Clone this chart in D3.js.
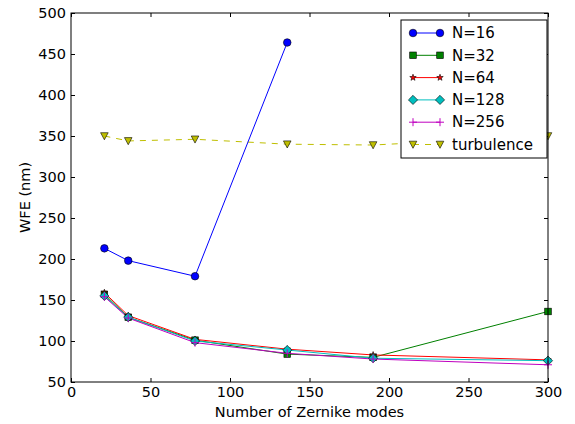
<!DOCTYPE html>
<html>
<head>
<meta charset="utf-8">
<script src="https://cdn.jsdelivr.net/npm/d3@7"></script>
<style>
  body { margin: 0; background: #fff; }
  text { font-family: "DejaVu Sans", sans-serif; }
</style>
</head>
<body>
<div id="chart"></div>
<script>
// data
var modes = [21, 36, 78, 136, 190, 300];
var n16 = [213, 198, 179, 464];
var n32 = [157, 129, 101, 84, 80, 136];
var n64 = [159, 131, 102, 90, 83, 77];
var n128 = [155, 129, 100, 89, 79, 76];
var n256 = [154, 128, 98, 85, 78, 71];
var turbulence = [350, 344, 346, 340, 339, 350];
var xTicks = [0, 50, 100, 150, 200, 250, 300];
var yTicks = [50, 100, 150, 200, 250, 300, 350, 400, 450, 500];

var series = [
  { name: 'N=16', values: n16, color: '#0000ff', symbol: 'circle', dash: null },
  { name: 'N=32', values: n32, color: '#008000', symbol: 'square', dash: null },
  { name: 'N=64', values: n64, color: '#ff0000', symbol: 'star', dash: null },
  { name: 'N=128', values: n128, color: '#00bfbf', symbol: 'diamond', dash: null },
  { name: 'N=256', values: n256, color: '#bf00bf', symbol: 'plus', dash: null },
  { name: 'turbulence', values: turbulence, color: '#bfbf00', symbol: 'triangle', dash: '6,6' }
];

var attrs = {
  width: 575,
  height: 424,
  marginTop: 13,
  marginLeft: 71,
  marginRight: 27,
  marginBottom: 42,
  fontSize: 14.5
};

var svg = d3.select('#chart').append('svg')
  .attr('width', attrs.width)
  .attr('height', attrs.height);

var x = d3.scaleLinear().domain([0, 300])
  .range([attrs.marginLeft, attrs.width - attrs.marginRight]);
var y = d3.scaleLinear().domain([50, 500])
  .range([attrs.height - attrs.marginBottom, attrs.marginTop]);

var plot = svg.append('g');

// clip to axes
svg.append('clipPath').attr('id', 'clip').append('rect')
  .attr('x', x(0)).attr('y', y(500))
  .attr('width', x(300) - x(0)).attr('height', y(50) - y(500));

var line = d3.line()
  .x(function(d, i) { return x(modes[i]); })
  .y(function(d) { return y(d); });

function symbolPath(sym, fill, sel) {
  if (sym === 'circle') {
    sel.append('circle').attr('r', 3.8).attr('fill', fill).attr('stroke', '#000').attr('stroke-width', 0.6);
  } else if (sym === 'square') {
    sel.append('rect').attr('x', -3.3).attr('y', -3.3).attr('width', 6.6).attr('height', 6.6)
      .attr('fill', fill).attr('stroke', '#000').attr('stroke-width', 0.6);
  } else if (sym === 'star') {
    sel.append('path').attr('d', d3.symbol().type(d3.symbolStar).size(13)())
      .attr('fill', fill).attr('stroke', '#000').attr('stroke-width', 0.6);
  } else if (sym === 'diamond') {
    sel.append('path').attr('d', 'M0,-4.6L4.6,0L0,4.6L-4.6,0Z')
      .attr('fill', fill).attr('stroke', '#000').attr('stroke-width', 0.6);
  } else if (sym === 'plus') {
    sel.append('path').attr('d', 'M-4,0H4M0,-4V4')
      .attr('fill', 'none').attr('stroke', fill).attr('stroke-width', 1);
  } else if (sym === 'triangle') {
    sel.append('path').attr('d', 'M-3.8,-3.3L3.8,-3.3L0,3.8Z')
      .attr('fill', fill).attr('stroke', '#000').attr('stroke-width', 0.6);
  }
}

// turbulence first, then N=16 ... N=256 on top
var drawOrder = [5, 0, 1, 2, 3, 4];
var seriesG = plot.append('g').attr('clip-path', 'url(#clip)');
drawOrder.forEach(function(si) {
  var s = series[si];
  seriesG.append('path')
    .datum(s.values)
    .attr('d', line)
    .attr('fill', 'none')
    .attr('stroke', s.color)
    .attr('stroke-width', 1)
    .attr('stroke-dasharray', s.dash);
});
var markerG = plot.append('g');
drawOrder.forEach(function(si) {
  var s = series[si];
  s.values.forEach(function(v, i) {
    var g = markerG.append('g').attr('transform', 'translate(' + x(modes[i]) + ',' + y(v) + ')');
    symbolPath(s.symbol, s.color, g);
  });
});

// frame
var frame = svg.append('g');
frame.append('rect')
  .attr('x', x(0)).attr('y', y(500))
  .attr('width', x(300) - x(0)).attr('height', y(50) - y(500))
  .attr('fill', 'none').attr('stroke', '#000').attr('stroke-width', 1);

// inward ticks on all four sides
var xAxisB = d3.axisBottom(x).tickValues(xTicks).tickSizeInner(-4).tickSizeOuter(0).tickPadding(5);
var xAxisT = d3.axisTop(x).tickValues(xTicks).tickSizeInner(-4).tickSizeOuter(0).tickFormat('');
var yAxisL = d3.axisLeft(y).tickValues(yTicks).tickSizeInner(-4).tickSizeOuter(0).tickPadding(5);
var yAxisR = d3.axisRight(y).tickValues(yTicks).tickSizeInner(-4).tickSizeOuter(0).tickFormat('');

function styleAxis(g) {
  g.select('.domain').remove();
  g.selectAll('.tick line').attr('stroke', '#000');
  g.selectAll('.tick text').attr('font-size', attrs.fontSize).attr('font-family', 'DejaVu Sans').attr('fill', '#000');
}

frame.append('g').attr('transform', 'translate(0,' + y(50) + ')').call(xAxisB).call(styleAxis);
frame.append('g').attr('transform', 'translate(0,' + y(500) + ')').call(xAxisT).call(styleAxis);
frame.append('g').attr('transform', 'translate(' + x(0) + ',0)').call(yAxisL).call(styleAxis);
frame.append('g').attr('transform', 'translate(' + x(300) + ',0)').call(yAxisR).call(styleAxis);

// axis labels
svg.append('text')
  .attr('x', (x(0) + x(300)) / 2).attr('y', 417)
  .attr('text-anchor', 'middle').attr('font-size', attrs.fontSize)
  .text('Number of Zernike modes');
svg.append('text')
  .attr('transform', 'translate(30,' + (y(50) + y(500)) / 2 + ') rotate(-90)')
  .attr('text-anchor', 'middle').attr('font-size', attrs.fontSize)
  .text('WFE (nm)');

// legend
var legend = svg.append('g').attr('transform', 'translate(401,20)');
legend.append('rect')
  .attr('width', 146).attr('height', 138)
  .attr('fill', '#fff').attr('stroke', '#000').attr('stroke-width', 1);
series.forEach(function(s, i) {
  var row = legend.append('g').attr('transform', 'translate(0,' + (13 + i * 22.3) + ')');
  row.append('line')
    .attr('x1', 12).attr('x2', 39).attr('y1', 0).attr('y2', 0)
    .attr('stroke', s.color).attr('stroke-width', 1)
    .attr('stroke-dasharray', s.dash);
  [12, 39].forEach(function(px) {
    var g = row.append('g').attr('transform', 'translate(' + px + ',0)');
    symbolPath(s.symbol, s.color, g);
  });
  row.append('text')
    .attr('x', 51).attr('y', 0).attr('dy', '0.35em')
    .attr('font-size', 15)
    .text(s.name);
});
</script>
</body>
</html>
